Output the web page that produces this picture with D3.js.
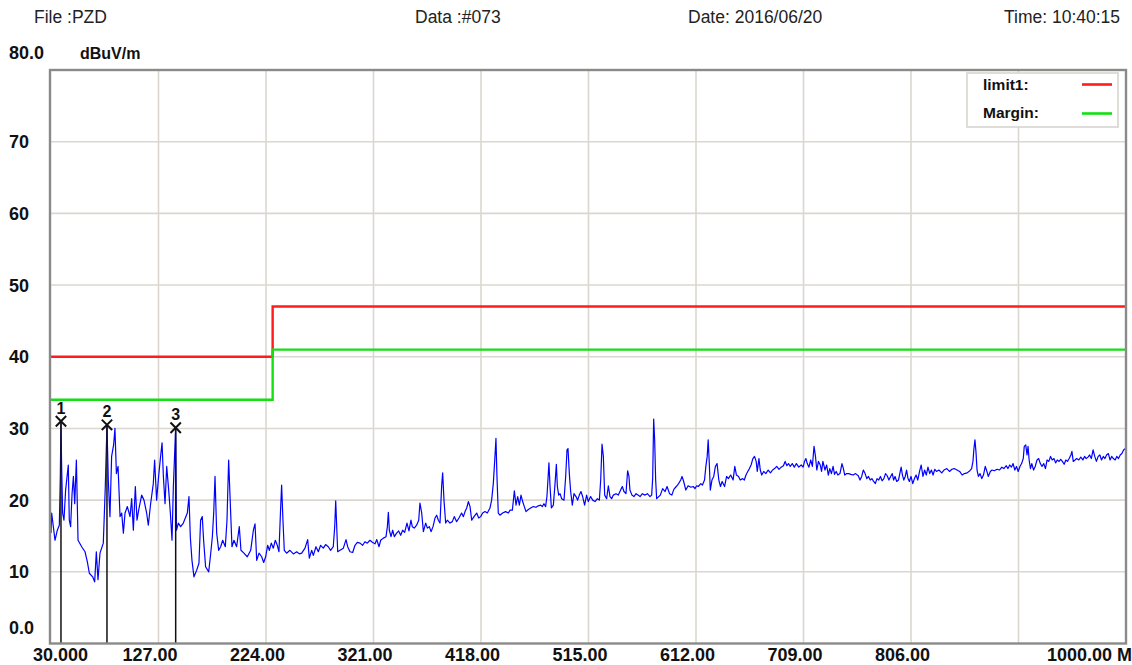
<!DOCTYPE html>
<html><head><meta charset="utf-8">
<script src="https://cdn.jsdelivr.net/npm/d3@7"></script>
<style>
body{margin:0;background:#fff;overflow:hidden}
svg{display:block}
text{font-family:"Liberation Sans",Arial,sans-serif}
</style>
</head><body>
<svg id="chart" width="1132" height="665"></svg>
<script>
// ---------- data ----------
const headerTexts = ["File :PZD", "Data :#073", "Date: 2016/06/20", "Time: 10:40:15"];
const yUnit = "dBuV/m";
const yGridValues = [10, 20, 30, 40, 50, 60, 70];
const yTickValues = [0, 10, 20, 30, 40, 50, 60, 70, 80];
const yTickLabels = ["0.0", "10", "20", "30", "40", "50", "60", "70", "80.0"];
const xGridValues = [127, 224, 321, 418, 515, 612, 709, 806, 903];
const xTickValues = [30, 127, 224, 321, 418, 515, 612, 709, 806, 1000];
const xTickLabels = ["30.000", "127.00", "224.00", "321.00", "418.00", "515.00", "612.00", "709.00", "806.00", "1000.00 MHz"];
const legendNames = ["limit1:", "Margin:"];
const limitFreq = [30, 230, 230, 1000];
const limitLevel = [40, 40, 47, 47];
const marginLevel = [34, 34, 41, 41];
const markerIds = ["1", "2", "3"];
const markerFreq = [39.0, 80.5, 142.5];
const markerLevel = [31.0, 30.5, 30.1];
const trace = [
[30.0,15.4],[30.6,18.2],[32.1,16.3],[33.6,14.4],[35.7,15.8],[37.5,16.5],[38.4,23.3],[39.0,31.0],[39.6,24.7],[40.5,18.2],
[41.7,17.2],[43.2,21.4],[45.6,24.9],[46.5,17.2],[47.7,16.3],[49.0,20.9],[50.2,23.3],[51.4,19.5],[52.9,25.6],[54.4,14.4],
[57.7,13.5],[60.7,12.8],[62.8,11.4],[64.6,9.8],[67.6,9.3],[69.4,8.6],[70.9,12.8],[72.4,8.9],[74.2,12.6],[77.2,14.0],
[79.0,21.9],[80.5,30.5],[81.7,22.8],[83.2,17.7],[84.7,26.1],[86.5,27.7],[87.7,30.0],[89.0,23.7],[90.5,24.7],[92.3,17.7],
[93.8,18.2],[95.3,15.4],[96.8,18.2],[98.9,19.1],[101.3,17.7],[102.8,20.2],[104.3,15.8],[106.1,21.9],[107.6,17.2],[109.1,18.6],
[111.8,20.7],[113.9,20.0],[116.3,18.2],[117.8,16.5],[119.9,19.5],[122.3,22.3],[123.5,25.6],[125.3,20.0],[127.1,23.3],[128.7,25.8],
[130.2,28.0],[131.4,23.3],[132.9,19.5],[134.4,24.7],[136.2,21.4],[137.7,18.2],[139.2,14.4],[140.4,21.9],[142.5,30.1],[143.2,15.8],
[144.9,16.8],[147.0,16.3],[149.4,16.8],[151.2,17.5],[153.0,18.2],[154.5,20.5],[155.7,14.9],[157.2,11.6],[159.0,9.3],[161.4,10.2],
[163.5,11.2],[165.0,17.2],[166.5,17.7],[167.7,14.4],[169.5,10.7],[172.3,10.0],[173.8,12.1],[175.6,14.9],[176.8,18.2],[178.0,23.3],
[179.5,15.4],[181.3,13.0],[183.1,13.5],[184.9,14.4],[187.3,13.5],[188.8,17.2],[190.3,25.6],[191.8,19.5],[193.3,13.5],[195.1,14.4],
[197.5,13.5],[199.9,16.3],[201.4,13.0],[204.1,12.6],[207.1,12.1],[210.2,13.0],[212.6,15.8],[214.1,16.7],[215.6,11.6],[217.7,12.6],
[220.1,12.1],[221.9,11.3],[223.7,12.1],[225.5,13.7],[227.0,13.0],[228.8,14.0],[230.6,13.3],[232.4,14.4],[234.2,13.7],[235.7,12.8],
[236.9,17.7],[238.1,22.1],[239.3,17.2],[240.5,13.0],[242.6,12.6],[245.6,13.0],[248.7,12.5],[251.7,12.8],[254.1,12.5],[256.2,12.6],
[259.2,13.3],[261.6,14.5],[263.1,11.9],[265.2,13.0],[266.7,12.3],[269.1,13.5],[271.2,12.8],[273.3,13.7],[275.7,13.3],[277.8,13.8],
[280.2,13.5],[282.3,13.0],[284.7,13.5],[286.0,16.3],[286.9,19.9],[287.8,16.3],[288.7,12.8],[290.8,13.0],[293.8,13.3],[296.2,14.5],
[297.7,13.5],[299.8,12.8],[302.2,12.7],[304.3,13.7],[306.4,14.1],[308.8,14.0],[311.2,13.7],[313.3,14.2],[315.4,14.0],[317.8,14.4],
[320.2,14.1],[322.4,13.9],[323.9,14.5],[326.0,13.5],[327.5,14.4],[329.9,14.7],[332.3,14.9],[333.5,16.3],[334.4,18.3],[335.3,15.8],
[336.8,14.9],[338.3,15.8],[339.8,14.9],[341.9,15.4],[343.7,15.7],[345.5,15.1],[347.3,15.8],[349.1,15.5],[351.2,16.8],[353.0,15.7],
[354.8,17.2],[356.0,16.3],[357.8,16.1],[359.9,16.5],[361.8,17.2],[362.9,19.6],[364.5,18.2],[366.0,15.6],[368.1,16.8],[369.6,16.1],
[371.4,16.3],[372.9,15.6],[374.7,16.3],[376.5,17.5],[378.0,17.9],[379.5,17.2],[381.0,16.8],[382.5,22.0],[383.4,23.8],[384.6,20.0],
[386.1,16.8],[387.6,17.2],[390.0,16.8],[392.1,17.0],[393.9,17.7],[396.0,17.0],[398.1,17.5],[400.5,18.2],[402.1,17.7],[403.6,18.4],
[405.1,18.9],[406.6,19.8],[408.1,19.1],[409.6,17.2],[411.7,17.7],[414.1,18.2],[415.9,17.5],[417.7,17.7],[419.5,18.2],[421.6,18.4],
[423.7,18.2],[426.1,18.9],[427.6,20.0],[429.1,22.3],[430.6,26.1],[431.5,28.6],[432.4,23.3],[433.6,18.2],[435.1,17.9],[437.5,18.2],
[440.2,18.4],[442.7,18.2],[444.2,18.6],[446.3,18.6],[448.1,21.3],[449.6,19.3],[451.1,20.5],[452.6,19.3],[454.1,20.7],[455.6,19.8],
[457.1,19.1],[458.6,18.4],[460.7,18.7],[462.8,18.9],[465.2,19.1],[467.6,19.0],[469.7,19.2],[471.8,19.3],[473.3,19.1],[474.8,19.5],
[476.3,19.1],[477.5,20.5],[478.4,22.8],[479.3,25.2],[480.3,21.9],[481.5,18.9],[483.3,19.3],[484.8,22.3],[486.0,25.0],[486.9,21.9],
[488.1,20.7],[489.3,20.9],[490.8,20.2],[492.9,20.0],[494.4,23.3],[495.6,27.0],[496.5,27.2],[497.7,23.7],[498.9,21.2],[500.4,19.3],
[501.9,20.9],[503.7,20.5],[505.2,20.0],[506.7,20.7],[508.2,21.2],[509.7,20.5],[511.5,19.3],[513.3,20.7],[514.8,19.8],[516.9,20.5],
[518.8,20.0],[520.9,19.8],[523.0,20.2],[524.8,20.0],[526.0,22.8],[527.2,27.8],[528.4,26.1],[529.6,20.7],[531.4,20.2],[532.9,22.0],
[534.4,20.5],[535.9,20.2],[537.4,20.7],[539.8,20.9],[541.9,20.7],[544.0,21.4],[545.5,21.9],[547.0,21.2],[548.8,20.9],[550.3,24.1],
[551.5,23.3],[552.4,21.4],[554.2,20.7],[556.0,20.5],[557.9,20.9],[559.7,20.7],[561.5,20.5],[563.6,20.9],[566.0,20.7],[568.1,20.9],
[570.5,20.5],[572.0,20.7],[572.9,23.0],[573.8,31.3],[574.7,28.4],[575.6,22.8],[576.5,20.2],[579.8,20.7],[581.9,21.6],[584.1,21.2],
[585.9,21.9],[588.1,20.9],[590.2,20.7],[592.0,21.5],[594.2,21.9],[596.3,22.3],[598.2,22.8],[599.4,23.3],[600.9,22.6],[602.8,21.4],
[604.9,22.0],[607.4,21.8],[609.5,21.9],[611.1,21.6],[612.6,22.0],[614.1,21.9],[616.3,22.3],[617.8,22.1],[619.7,22.8],[620.9,24.7],
[622.1,26.1],[623.0,28.4],[624.0,25.1],[624.9,21.4],[626.4,22.8],[628.0,23.3],[629.5,24.7],[631.0,25.1],[632.6,22.8],[634.1,21.9],
[635.6,22.6],[637.8,21.9],[639.6,23.3],[641.2,23.0],[643.3,23.5],[645.5,22.8],[647.0,24.7],[648.5,23.5],[650.4,23.3],[651.9,22.8],
[654.1,23.0],[655.6,22.8],[657.1,23.5],[658.7,24.0],[660.2,24.4],[661.7,24.9],[663.3,25.8],[664.8,26.1],[666.3,25.4],[667.3,24.0],
[668.8,25.8],[670.0,24.2],[671.3,23.5],[673.1,24.0],[675.0,23.7],[677.1,24.2],[679.2,23.8],[681.1,24.2],[682.9,24.4],[684.8,24.7],
[686.9,24.3],[688.8,24.6],[690.9,24.8],[692.4,25.4],[694.0,24.8],[695.5,25.1],[697.0,24.7],[698.9,25.1],[700.7,24.6],[702.6,25.1],
[704.7,24.6],[706.9,24.9],[708.7,24.6],[709.9,25.4],[711.2,25.8],[712.4,25.1],[713.9,24.6],[715.5,25.6],[717.0,24.7],[718.5,27.5],
[719.8,26.1],[721.0,24.2],[722.5,25.4],[724.1,24.9],[725.3,24.0],[726.5,25.4],[728.4,24.2],[729.9,24.9],[731.4,23.5],[732.7,24.4],
[734.2,23.7],[735.7,24.7],[737.0,23.6],[738.5,24.0],[740.0,23.5],[741.9,23.7],[743.7,25.1],[745.0,24.4],[746.2,23.5],[748.0,23.7],
[749.8,23.7],[751.7,23.6],[753.8,23.5],[756.0,23.7],[758.4,23.4],[760.0,22.8],[761.5,23.3],[763.0,24.2],[764.6,23.7],[766.1,23.0],
[767.6,23.3],[769.2,22.8],[770.7,23.0],[772.3,22.6],[773.8,22.3],[775.3,23.0],[776.9,22.8],[778.4,23.3],[779.9,22.7],[781.5,23.0],
[783.0,23.7],[784.5,23.4],[786.1,22.8],[787.6,23.3],[789.1,23.7],[790.3,22.8],[791.6,23.3],[793.1,22.6],[794.7,22.8],[795.9,23.7],
[797.1,24.6],[798.3,23.5],[799.5,22.8],[800.8,23.3],[802.0,24.2],[803.3,23.0],[804.5,22.6],[806.0,23.3],[807.6,22.3],[809.1,23.0],
[810.6,23.5],[812.1,22.8],[813.7,24.0],[815.2,24.9],[816.8,23.3],[818.3,24.2],[819.8,23.5],[821.3,24.6],[822.9,23.7],[824.4,24.2],
[825.9,23.5],[827.5,24.3],[829.0,24.0],[831.2,24.2],[833.7,23.8],[835.8,24.2],[838.3,24.4],[840.7,24.0],[842.9,24.3],[845.0,24.4],
[847.5,24.2],[849.9,24.0],[852.1,23.5],[854.2,23.7],[856.7,23.8],[859.1,24.1],[860.7,24.4],[861.9,25.4],[862.8,27.2],[863.7,28.4],
[864.6,26.8],[865.6,24.2],[866.8,23.3],[868.3,23.7],[869.9,23.0],[871.4,23.5],[873.0,24.7],[874.5,24.0],[875.7,23.3],[877.6,24.0],
[879.1,24.2],[881.2,24.1],[883.7,24.3],[885.8,24.2],[888.0,24.6],[889.8,24.4],[892.0,24.8],[893.5,24.4],[895.1,24.9],[896.6,24.6],
[898.1,25.1],[899.7,24.2],[901.2,24.7],[902.7,24.0],[904.3,24.7],[905.8,25.1],[907.3,25.8],[908.2,27.5],[909.5,27.7],[910.7,26.3],
[911.6,27.5],[912.6,25.6],[913.8,24.4],[915.0,25.1],[916.6,24.2],[918.1,24.7],[919.7,25.6],[921.2,25.8],[922.7,25.1],[924.2,24.7],
[925.8,25.1],[927.3,24.4],[928.8,25.6],[930.4,25.4],[931.9,26.1],[933.4,25.6],[935.0,25.8],[936.5,25.2],[938.0,25.6],[939.6,25.4],
[941.1,25.7],[942.6,25.4],[944.2,25.0],[945.7,25.6],[947.2,25.4],[948.7,25.8],[950.3,26.3],[951.2,26.8],[952.4,25.4],[954.0,25.6],
[955.5,25.8],[957.4,25.6],[959.2,26.0],[961.1,25.6],[962.6,26.1],[964.1,25.8],[965.7,26.0],[967.2,26.3],[968.7,25.8],[970.3,27.0],
[971.8,26.1],[973.3,25.4],[974.9,26.1],[976.4,26.3],[977.9,25.6],[979.5,26.1],[981.0,25.8],[982.5,26.3],[984.1,26.5],[985.6,25.6],
[987.1,26.1],[988.6,25.8],[990.2,25.6],[991.7,26.1],[993.2,25.8],[994.8,26.3],[996.3,26.5],[997.8,27.0],[999.4,27.2],[1000.0,27.3]
];

// ---------- layout ----------
const svg = d3.select("#chart");
const plot = {left: 51, right: 1126, top: 70, bottom: 643.5};
const x = d3.scaleLinear().domain([30, 1000]).range([plot.left, plot.right]);
const y = d3.scaleLinear().domain([0, 80]).range([plot.bottom, plot.top]);

svg.append("rect").attr("width", 1132).attr("height", 665).attr("fill", "#fff");

// header
const headerX = [34, 415, 688, 1004];
svg.selectAll("text.hdr").data(headerTexts).join("text")
  .attr("class", "hdr").attr("x", (d, i) => headerX[i]).attr("y", 23)
  .attr("font-size", 17.5).attr("fill", "#222").text(d => d);

// grid
const grid = svg.append("g");
grid.selectAll("line.gy").data(yGridValues).join("line")
  .attr("x1", plot.left).attr("x2", plot.right)
  .attr("y1", d => y(d)).attr("y2", d => y(d))
  .attr("stroke", "#dbd7cf").attr("stroke-width", 1.6);
grid.selectAll("line.gx").data(xGridValues).join("line")
  .attr("y1", plot.top).attr("y2", plot.bottom)
  .attr("x1", d => x(d)).attr("x2", d => x(d))
  .attr("stroke", "#dbd7cf").attr("stroke-width", 1.6);

// clip
svg.append("clipPath").attr("id", "pc").append("rect")
  .attr("x", plot.left).attr("y", plot.top)
  .attr("width", plot.right - plot.left).attr("height", plot.bottom - plot.top);
const pg = svg.append("g").attr("clip-path", "url(#pc)");

// limit and margin lines
const stepLine = d3.line().x(d => x(d[0])).y(d => y(d[1]));
pg.append("path").datum(limitFreq.map((f, i) => [f, limitLevel[i]]))
  .attr("d", stepLine).attr("fill", "none").attr("stroke", "#ff1c1c").attr("stroke-width", 2.4);
pg.append("path").datum(limitFreq.map((f, i) => [f, marginLevel[i]]))
  .attr("d", stepLine).attr("fill", "none").attr("stroke", "#12e012").attr("stroke-width", 2.4);

// trace
pg.append("path").datum(trace)
  .attr("d", d3.line().x(d => x(d[0])).y(d => y(d[1])))
  .attr("fill", "none").attr("stroke", "#0000ff").attr("stroke-width", 1.2)
  .attr("stroke-linejoin", "round");

// markers
const mk = svg.append("g");
markerIds.forEach((id, i) => {
  const mx = x(markerFreq[i]), my = y(markerLevel[i]);
  mk.append("line").attr("x1", mx).attr("x2", mx).attr("y1", my).attr("y2", plot.bottom)
    .attr("stroke", "#111").attr("stroke-width", 1.5);
  const s = 5.2;
  mk.append("path").attr("d", `M${mx - s},${my - s}L${mx + s},${my + s}M${mx - s},${my + s}L${mx + s},${my - s}`)
    .attr("stroke", "#111").attr("stroke-width", 2).attr("fill", "none");
  mk.append("text").attr("x", mx).attr("y", my - 7.5).attr("text-anchor", "middle")
    .attr("font-size", 16).attr("font-weight", "bold").attr("fill", "#111").text(id);
});

// border
svg.append("rect").attr("x", plot.left - 1).attr("y", plot.top)
  .attr("width", plot.right - plot.left + 1).attr("height", plot.bottom - plot.top)
  .attr("fill", "none").attr("stroke", "#8a8a8a").attr("stroke-width", 2.4);

// legend
const lg = svg.append("g");
lg.append("rect").attr("x", 967).attr("y", 73).attr("width", 151).attr("height", 54)
  .attr("fill", "#fff").attr("stroke", "#d4d2cc").attr("stroke-width", 1.5);
const legendColors = ["#ff1c1c", "#12e012"];
legendNames.forEach((n, i) => {
  lg.append("text").attr("x", 983).attr("y", 90 + i * 28).attr("font-size", 15.5)
    .attr("font-weight", "bold").attr("fill", "#111").text(n);
  lg.append("line").attr("x1", 1082).attr("x2", 1112).attr("y1", 84.5 + i * 29).attr("y2", 84.5 + i * 29)
    .attr("stroke", legendColors[i]).attr("stroke-width", 2.6);
});

// y axis labels
svg.selectAll("text.yl").data(yTickValues).join("text")
  .attr("class", "yl").attr("x", 9)
  .attr("y", (d, i) => y(d) + 6.5 + (d === 0 ? -16 : 0) + (d === 80 ? -18 : 0))
  .attr("font-size", 18).attr("font-weight", "bold").attr("fill", "#111")
  .text((d, i) => yTickLabels[i]);
svg.append("text").attr("x", 80).attr("y", y(80) - 11.5).attr("font-size", 16)
  .attr("font-weight", "bold").attr("fill", "#111").text(yUnit);

// x axis labels
svg.selectAll("text.xl").data(xTickValues).join("text")
  .attr("class", "xl")
  .attr("x", (d, i) => i === 0 ? x(d) - 18 : (i === xTickValues.length - 1 ? x(d) - 79 : x(d) - 36))
  .attr("y", 661)
  .attr("font-size", 18).attr("font-weight", "bold").attr("fill", "#111")
  .text((d, i) => xTickLabels[i]);
</script>
</body></html>
